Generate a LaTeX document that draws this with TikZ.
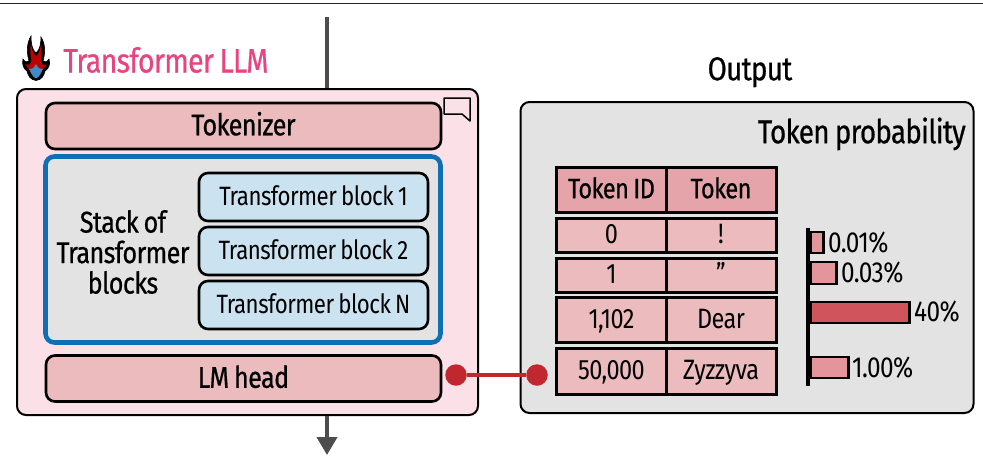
\documentclass[tikz,border=0pt]{standalone}
\usepackage{fontspec}
\setmainfont[FakeStretch=0.84, LetterSpace=-2, WordSpace=0.8]{Fira Sans}
\newfontfamily\medfont[FakeStretch=0.84, FakeBold=0.6, LetterSpace=-2, WordSpace=0.8]{Fira Sans}
\definecolor{llmpink}{HTML}{FBE0E7}
\definecolor{titlepink}{HTML}{E8447F}
\definecolor{boxrose}{HTML}{ECBBBE}
\definecolor{headrose}{HTML}{E5A4A9}
\definecolor{barrose}{HTML}{E4959B}
\definecolor{barred}{HTML}{CF545B}
\definecolor{panelgrey}{HTML}{E3E3E3}
\definecolor{blockblue}{HTML}{CBE2F1}
\definecolor{stackblue}{HTML}{0F6FB5}
\definecolor{linkred}{HTML}{C0272F}
\definecolor{flowgrey}{HTML}{4D4D4D}
\usetikzlibrary{arrows, arrows.meta, positioning}

\tikzset{
    txt/.style={font=\fontsize{#1}{#1}\selectfont, text height=0.76*#1 pt, text depth=0.14*#1 pt, inner sep=0pt},
    medtxt/.style={font=\medfont\fontsize{#1}{#1}\selectfont, text height=0.76*#1 pt, text depth=0.14*#1 pt, inner sep=0pt},
    panel/.style={draw=black, line width=2pt, rounded corners=9pt, inner sep=0pt},
    rosebox/.style={draw=black, line width=2.6pt, rounded corners=9pt, fill=boxrose, medtxt=30},
    blockbox/.style={draw=black, line width=2.6pt, rounded corners=9pt, fill=blockblue, txt=26.5, minimum width=229, minimum height=48},
    headcell/.style={draw=black, line width=3pt, fill=headrose, medtxt=28, minimum height=45},
    bodycell/.style={draw=black, line width=3pt, fill=boxrose, txt=28},
    probbar/.style={draw=black, line width=2.6pt, fill=barrose, anchor=west, inner sep=0pt},
    problabel/.style={txt=29, anchor=west},
    flow/.style={line width=4pt, flowgrey},
    linkdot/.style={circle, fill=linkred, minimum size=21.5, inner sep=0pt}
}

\begin{document}
\begin{tikzpicture}[x=1pt, y=-1pt]
    \useasboundingbox (0,0) rectangle (983,466);

    % Rule at the top
    \coordinate (ruleleft) at (0,3);
    \coordinate (ruleright) at (983,3);
    \draw[line width=0.9pt, black!85] (ruleleft) -- (ruleright);

    % Transformer LLM panel
    \node[panel, fill=llmpink, minimum width=461, minimum height=326] (llm) at (247.5,252) {};
    \node[medtxt=34, text=titlepink, anchor=west] (llmtitle) at (63,62) {Transformer LLM};

    % Flame logo
    \draw[fill=black, draw=black, line width=0.6pt] (36,80.5) .. controls (30,80) and (28,75) .. (27,71) .. controls (24,69) and (21.5,65) .. (23,59) .. controls (25,62) and (27,63) .. (29,61) .. controls (27,54) and (26,44) .. (31,36) .. controls (31,43) and (32,50) .. (36,53) .. controls (40,50) and (41,43) .. (41,37) .. controls (46,45) and (45,54) .. (43,61) .. controls (45,63) and (47,62) .. (49,59) .. controls (51,65) and (48,69) .. (45,71) .. controls (44,75) and (42,80) .. (36,80.5) -- cycle;
    \fill[red!75!black] (36,72) .. controls (31,72) and (28,69) .. (25.5,64) .. controls (28,66) and (31,65) .. (31.5,60) .. controls (30,54) and (30,49) .. (31,44) .. controls (32,50) and (34,56) .. (36,56) .. controls (38,56) and (40,50) .. (41,44) .. controls (42,49) and (42,54) .. (40.5,60) .. controls (41,65) and (44,66) .. (46.5,64) .. controls (44,69) and (41,72) .. (36,72) -- cycle;
    \fill[stackblue!80] (36,78.5) .. controls (32,77) and (31,72) .. (29,69) .. controls (32,70) and (34,68) .. (36,64) .. controls (38,68) and (40,70) .. (43,69) .. controls (41,72) and (40,77) .. (36,78.5) -- cycle;

    % Input and output of the panel
    \coordinate (flowtop) at (327,17);
    \coordinate (flowtip) at (327,455);
    \draw[flow] (flowtop) -- (flowtop |- llm.north);
    \draw[flow, -{Triangle[length=18pt, width=20pt]}] (flowtop |- llm.south) -- (flowtip);

    % Note icon
    \draw[fill=llmpink, line width=1.5pt, line join=round] (444,98) -- (470,98) -- (470,121) -- (462,114) -- (444,114) -- cycle;

    % Tokenizer
    \node[rosebox, minimum width=395, minimum height=46] (tokenizer) at (243.5,126) {Tokenizer};

    % Stack of blocks
    \node[panel, draw=stackblue, line width=4.6pt, fill=panelgrey, minimum width=395, minimum height=186] (stack) at (243,249.5) {};
    \node[medtxt=30, align=center, text height=, text depth=] (stacklabel) at (123,252) {Stack of\\[0.5pt]Transformer\\[0.5pt]blocks};
    \node[blockbox] (blockone) at (313.5,197) {Transformer block 1};
    \node[blockbox] (blocktwo) at (313.5,251) {Transformer block 2};
    \node[blockbox] (blockn) at (313.5,305) {Transformer block N};

    % LM head
    \node[rosebox, minimum width=395, minimum height=46] (lmhead) at (243.5,378.5) {LM head};

    % Output panel
    \node[medtxt=33] (outputtitle) at (750,70) {Output};
    \node[panel, fill=panelgrey, minimum width=453, minimum height=311] (output) at (747,257.5) {};
    \node[medtxt=33, anchor=east] (probtitle) at (966,133) {Token probability};

    % Table
    \node[headcell, minimum width=110] (idhead) at (611.5,189.5) {Token ID};
    \node[headcell, minimum width=110] (tokhead) at (721,189.5) {Token};
    \node[bodycell, minimum width=110, minimum height=34] (idzero) at (611.5,235) {0};
    \node[bodycell, minimum width=110, minimum height=34] (tokzero) at (721,235) {!};
    \node[bodycell, minimum width=110, minimum height=34] (idone) at (611.5,275) {1};
    \node[bodycell, minimum width=110, minimum height=34] (tokone) at (721,275) {"};
    \node[bodycell, minimum width=110, minimum height=45] (iddear) at (611.5,319.5) {1,102};
    \node[bodycell, minimum width=110, minimum height=45] (tokdear) at (721,319.5) {Dear};
    \node[bodycell, minimum width=110, minimum height=46] (idzyz) at (611.5,371) {50,000};
    \node[bodycell, minimum width=110, minimum height=46] (tokzyz) at (721,371) {Zyzzyva};

    % Bars
    \node[probbar, minimum width=13, minimum height=21] (barone) at (809,242.5) {};
    \node[problabel] (labelone) at (828,244) {0.01\%};
    \node[probbar, minimum width=26, minimum height=22] (bartwo) at (809,273) {};
    \node[problabel] (labeltwo) at (841,274) {0.03\%};
    \node[probbar, fill=barred, minimum width=99, minimum height=21] (barthree) at (809,312.5) {};
    \node[problabel] (labelthree) at (914,313) {40\%};
    \node[probbar, minimum width=38, minimum height=21] (barfour) at (809,367.5) {};
    \node[problabel] (labelfour) at (852,369) {1.00\%};
    \coordinate (axistop) at (808,228);
    \coordinate (axisbottom) at (808,386);
    \draw[line width=4.6pt] (axistop) -- (axisbottom);

    % Link from LM head to the table
    \node[linkdot] (dotleft) at (456,375) {};
    \node[linkdot] (dotright) at (537,375) {};
    \draw[line width=4pt, linkred] (dotleft) -- (dotright);
\end{tikzpicture}
\end{document}
